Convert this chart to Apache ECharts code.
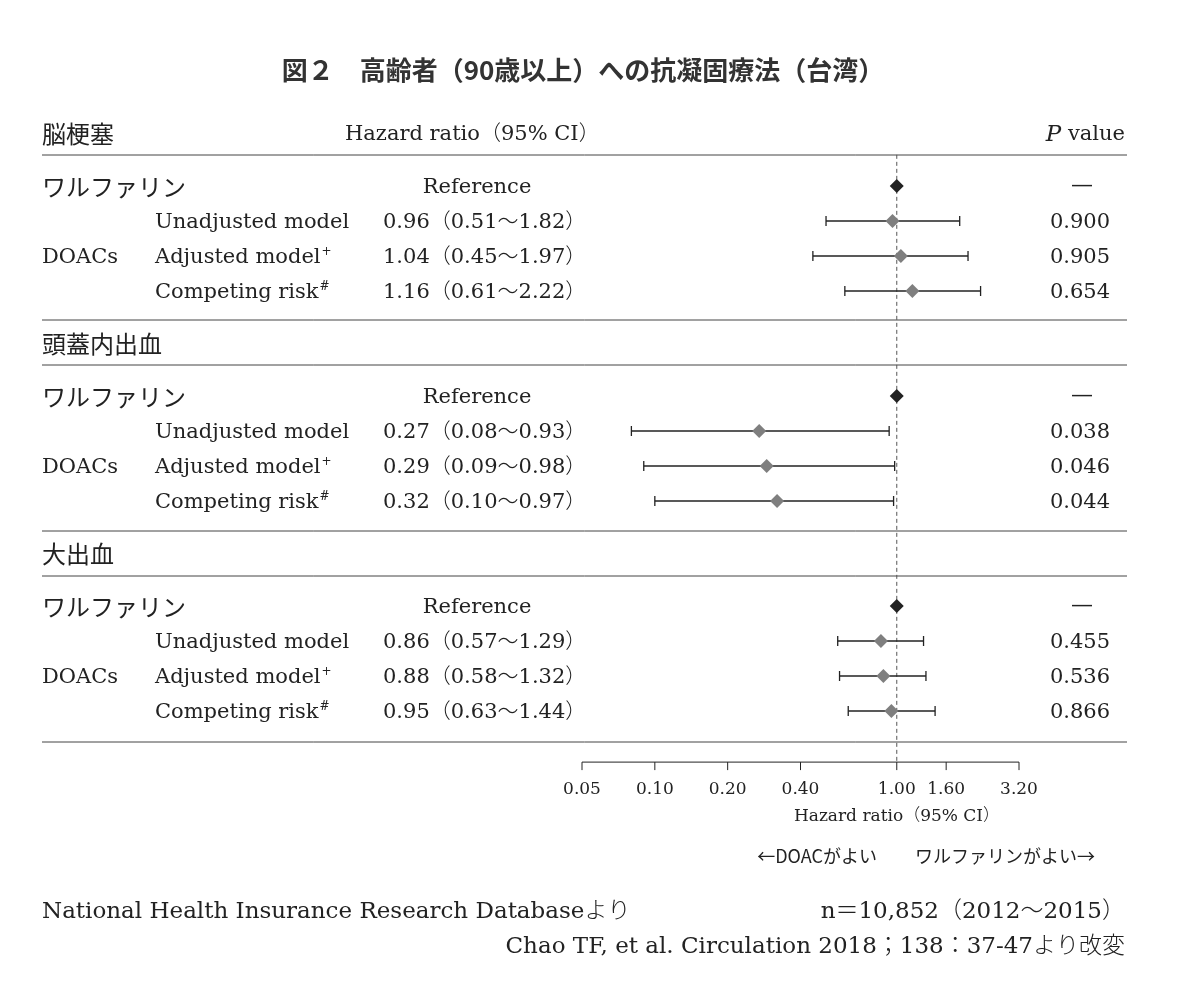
<!DOCTYPE html>
<html>
<head>
<meta charset="utf-8">
<script src="https://cdn.jsdelivr.net/npm/echarts@6/dist/echarts.min.js"></script>
<style>
  html, body { margin: 0; padding: 0; background: #fff; }
  #chart { width: 1200px; height: 984px; }
</style>
</head>
<body>
<div id="chart"></div>
<script>
const outcomes = ["脳梗塞", "頭蓋内出血", "大出血"];
const models = ["Unadjusted model", "Adjusted model", "Competing risk"];
const modelSup = ["", "+", "#"];
const hr = [[0.96, 1.04, 1.16], [0.27, 0.29, 0.32], [0.86, 0.88, 0.95]];
const lo = [[0.51, 0.45, 0.61], [0.08, 0.09, 0.10], [0.57, 0.58, 0.63]];
const hi = [[1.82, 1.97, 2.22], [0.93, 0.98, 0.97], [1.29, 1.32, 1.44]];
const pValues = [["0.900", "0.905", "0.654"], ["0.038", "0.046", "0.044"], ["0.455", "0.536", "0.866"]];
const refValue = 1.0;
const tickValues = [0.05, 0.10, 0.20, 0.40, 1.00, 1.60, 3.20];
const tickLabels = ["0.05", "0.10", "0.20", "0.40", "1.00", "1.60", "3.20"];

const serif = '"DejaVu Serif", "Noto Sans CJK JP", serif';
const jp = '"Noto Sans CJK JP", sans-serif';
const ink = "#222";
const grey = "#7f7f7f";

// row index -> pixel y (rows are 35px apart, first row at y=186)
const rowY = (r) => 188 + 35 * r;
const sectionStart = [0, 6, 12];
const axisRow = 16.46;

const fmt = (v) => v.toFixed(2);

const points = [];
const refs = [];
outcomes.forEach((o, s) => {
  refs.push([refValue, sectionStart[s]]);
  models.forEach((m, k) => {
    points.push([hr[s][k], sectionStart[s] + 1 + k, lo[s][k], hi[s][k]]);
  });
});

const g = [];
const txt = (x, y, text, size, opt = {}) => {
  g.push({
    type: "text", x: x, y: y,
    style: Object.assign({
      text: text, font: "300 " + size + "px " + serif, fill: ink,
      textVerticalAlign: "middle", textAlign: "left"
    }, opt)
  });
};
const rule = (y) => {
  g.push({ type: "line", shape: { x1: 42, y1: y, x2: 1127, y2: y }, style: { stroke: "#444", lineWidth: 1 } });
};

txt(583, 70, "図２　高齢者（90歳以上）への抗凝固療法（台湾）", 26,
  { textAlign: "center", font: "bold 26px " + jp, fill: "#333" });
txt(42, 134, outcomes[0], 24, { font: "24px " + jp });
txt(345, 135, "Hazard ratio（95% CI）", 21);
g.push({
  type: "text", x: 1125, y: 135,
  style: {
    text: "{i|P} value", textAlign: "right", textVerticalAlign: "middle",
    font: "21px " + serif, fill: ink,
    rich: { i: { fontStyle: "italic", fontSize: 23, fontFamily: serif, fill: ink } }
  }
});
[155, 320, 365, 531, 576, 742].forEach(rule);
txt(42, 344, outcomes[1], 24, { font: "24px " + jp });
txt(42, 554, outcomes[2], 24, { font: "24px " + jp });

outcomes.forEach((o, s) => {
  const r0 = sectionStart[s];
  txt(42, rowY(r0) - 1, "ワルファリン", 24, { font: "24px " + jp });
  txt(477, rowY(r0), "Reference", 21, { textAlign: "center" });
  txt(1082, rowY(r0) - 2, "—", 22, { textAlign: "center" });
  txt(42, rowY(r0 + 2), "DOACs", 21);
  models.forEach((m, k) => {
    const y = rowY(r0 + 1 + k);
    g.push({
      type: "text", x: 155, y: y,
      style: {
        text: m + (modelSup[k] ? "{s|" + modelSup[k] + "}" : ""),
        font: "21px " + serif, fill: ink, textVerticalAlign: "middle",
        rich: { s: { fontSize: 12, fontFamily: serif, fill: ink, verticalAlign: "top", padding: [0, 0, 12, 1] } }
      }
    });
    txt(383, y, fmt(hr[s][k]) + "（" + fmt(lo[s][k]) + "～" + fmt(hi[s][k]) + "）", 21);
    txt(1110, y, pValues[s][k], 21, { textAlign: "right" });
  });
});

txt(897, 817, "Hazard ratio（95% CI）", 17, { textAlign: "center" });
txt(877, 856, "←DOACがよい", 18, { textAlign: "right", font: "18px " + jp });
txt(915, 856, "ワルファリンがよい→", 18, { font: "18px " + jp });
txt(42, 912, "National Health Insurance Research Databaseより", 23);
txt(1125, 912, "n＝10,852（2012～2015）", 23, { textAlign: "right" });
txt(1125, 947, "Chao TF, et al. Circulation 2018；138：37-47より改変", 23, { textAlign: "right" });

const diamond = (cx, cy, r, color) => ({
  type: "polygon",
  shape: { points: [[cx, cy - r], [cx + r, cy], [cx, cy + r], [cx - r, cy]] },
  style: { fill: color }
});

const chart = echarts.init(document.getElementById("chart"));
chart.setOption({
  animation: false,
  backgroundColor: "#fff",
  grid: { left: 582, width: 437, top: 151, height: 630 },
  xAxis: { type: "log", logBase: 2, min: 0.05, max: 3.2, show: false },
  yAxis: { type: "value", min: -1, max: 17, inverse: true, show: false },
  graphic: g,
  series: [
    {
      type: "custom", clip: false, silent: true,
      data: tickValues.map((v, i) => [v, i]),
      renderItem: (params, api) => {
        const v = api.value(0);
        const i = api.value(1);
        const p = api.coord([v, axisRow]);
        const children = [
          { type: "line", shape: { x1: p[0], y1: p[1], x2: p[0], y2: p[1] + 8 }, style: { stroke: ink, lineWidth: 1 } },
          { type: "text", x: p[0], y: p[1] + 27,
            style: { text: tickLabels[i], textAlign: "center", textVerticalAlign: "middle", font: "17px " + serif, fill: ink } }
        ];
        if (i === 0) {
          const a = api.coord([tickValues[0], axisRow]);
          const b = api.coord([tickValues[tickValues.length - 1], axisRow]);
          children.push({ type: "line", shape: { x1: a[0], y1: a[1], x2: b[0], y2: b[1] }, style: { stroke: ink, lineWidth: 1 } });
          const t = api.coord([refValue, -0.89]);
          const u = api.coord([refValue, axisRow]);
          children.push({ type: "line", shape: { x1: t[0], y1: t[1], x2: u[0], y2: u[1] },
            style: { stroke: "#555", lineWidth: 1, lineDash: [4, 3] } });
        }
        return { type: "group", children: children };
      }
    },
    {
      type: "custom", clip: false, silent: true,
      data: points,
      renderItem: (params, api) => {
        const y = api.value(1);
        const c = api.coord([api.value(0), y]);
        const l = api.coord([api.value(2), y]);
        const h = api.coord([api.value(3), y]);
        const st = { stroke: ink, lineWidth: 1.3 };
        return {
          type: "group", children: [
            { type: "line", shape: { x1: l[0], y1: c[1], x2: h[0], y2: c[1] }, style: st },
            { type: "line", shape: { x1: l[0], y1: c[1] - 5, x2: l[0], y2: c[1] + 5 }, style: st },
            { type: "line", shape: { x1: h[0], y1: c[1] - 5, x2: h[0], y2: c[1] + 5 }, style: st },
            diamond(c[0], c[1], 7, grey)
          ]
        };
      }
    },
    {
      type: "custom", clip: false, silent: true,
      data: refs,
      renderItem: (params, api) => {
        const c = api.coord([api.value(0), api.value(1)]);
        return diamond(c[0], c[1], 7, ink);
      }
    }
  ]
});
</script>
</body>
</html>
